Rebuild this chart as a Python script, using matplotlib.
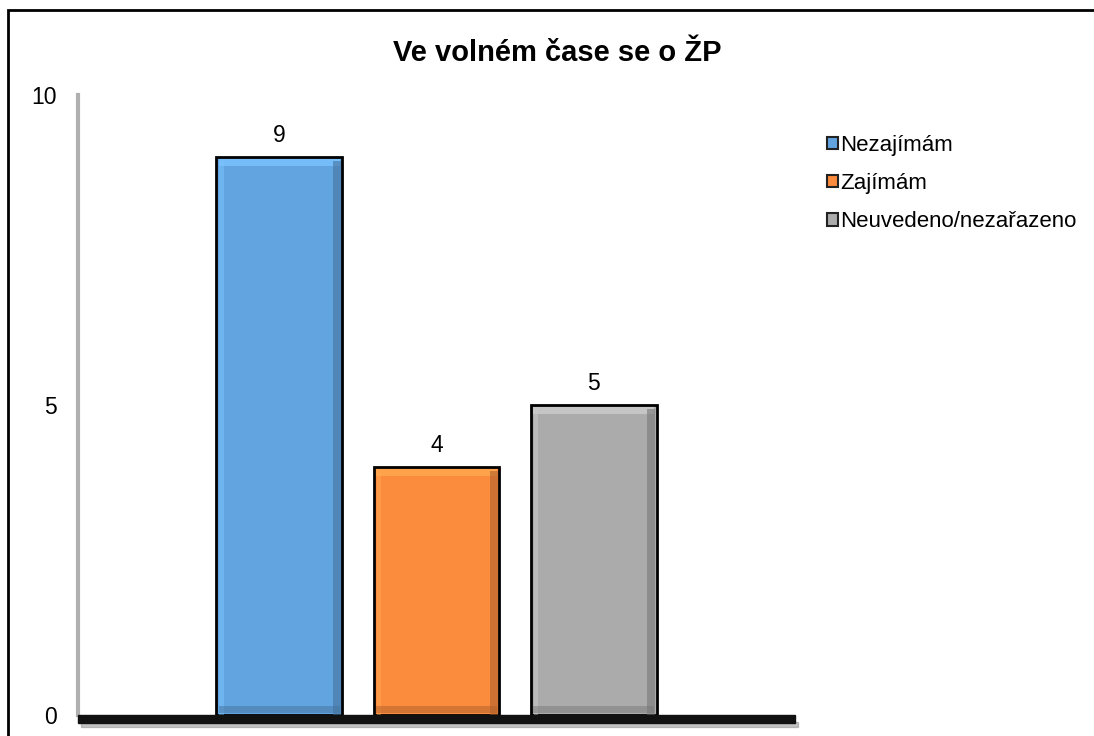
import matplotlib
matplotlib.use("Agg")
import matplotlib.pyplot as plt
from matplotlib.patches import Rectangle
import matplotlib.colors as mcolors

plt.rcParams['font.family'] = ['Liberation Sans', 'DejaVu Sans']

title = "Ve volném čase se o ŽP"
series = ["Nezajímám", "Zajímám", "Neuvedeno/nezařazeno"]
values = [9, 4, 5]
colors = ["#62a4e0", "#fb8b3d", "#ababab"]
yticks = [0, 5, 10]

fig = plt.figure(figsize=(10.94, 7.36), dpi=100)

# outer frame
fig.patches.append(Rectangle((8 / 1094, -0.01), 1.02, 1 - 10 / 736 + 0.01,
                             transform=fig.transFigure, fill=False,
                             edgecolor="black", linewidth=2))

ax = fig.add_axes([78 / 1094, 1 - 715 / 736, (795 - 78) / 1094, (715 - 95) / 736])

w = 0.1757
gap = 0.219
xs = [(i - 1) * gap for i in range(len(values))]

for x, v, c, lab in zip(xs, values, colors, series):
    ax.bar(x, v, width=w, color=c, edgecolor="black", linewidth=2, label=lab, zorder=3)
    rgb = mcolors.to_rgb(c)
    light = tuple(min(1, k * 1.12 + 0.05) for k in rgb)
    dark = tuple(k * 0.7 for k in rgb)
    bev = 0.11
    bw = 0.011
    # bevel strips
    ax.bar(x, bev, bottom=v - bev - 0.03, width=w - 0.006, color=light, linewidth=0, zorder=4, alpha=0.8)
    ax.bar(x + w / 2 - bw / 2 - 0.002, v - 0.06, width=bw, color=dark, linewidth=0, zorder=4, alpha=0.6)
    ax.bar(x - w / 2 + bw / 2 + 0.002, v - 0.06, width=bw * 0.6, color=light, linewidth=0, zorder=4, alpha=0.5)
    ax.bar(x, bev, bottom=0.03, width=w - 0.006, color=dark, linewidth=0, zorder=4, alpha=0.5)
    ax.text(x, v + 0.16, str(v), ha="center", va="bottom", fontsize=16.5)

ax.set_xlim(-0.5, 0.5)
ax.set_ylim(0, 10)
ax.set_yticks(yticks)
ax.set_yticklabels([str(t) for t in yticks], fontsize=16.5)
ax.tick_params(axis="y", length=0, pad=15)
ax.set_xticks([])
for s in ["top", "right", "bottom"]:
    ax.spines[s].set_visible(False)
ax.spines["left"].set_color("#b0b0b0")
ax.spines["left"].set_linewidth(3)

# floor
ax.add_patch(Rectangle((0, -0.013), 1.0, 0.013, transform=ax.transAxes,
                       color="#111111", clip_on=False, zorder=5))
ax.add_patch(Rectangle((0.004, -0.02), 1.0, 0.009, transform=ax.transAxes,
                       color="#888888", alpha=0.5, clip_on=False, zorder=4))

fig.text(557 / 1094, 1 - 53 / 736, title, ha="center", va="center",
         fontsize=21, fontweight="bold")

leg = ax.legend(loc="upper left", bbox_to_anchor=(1.032, 0.95), frameon=False,
                fontsize=16, handlelength=0.5, handleheight=0.5, handletextpad=0.1,
                labelspacing=0.77, borderaxespad=0)
for h in leg.legend_handles:
    h.set_linewidth(1.5)
    h.set_edgecolor("#222222")

fig.savefig("out.png", dpi=100)
